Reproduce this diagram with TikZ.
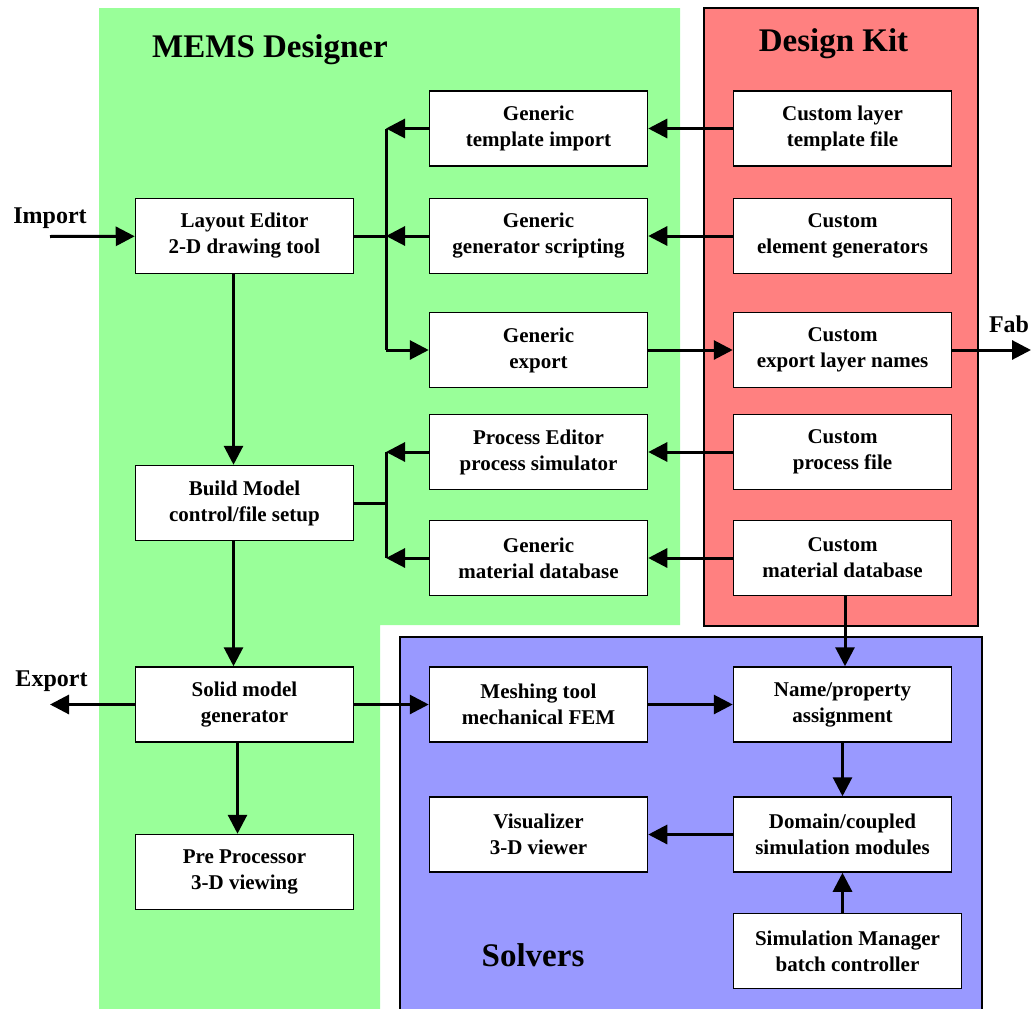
\documentclass[tikz,border=0pt]{standalone}
\usepackage{fontspec}
\setmainfont{Liberation Serif}
\usepackage{tikz}
\usetikzlibrary{arrows.meta}
\definecolor{memsgreen}{RGB}{153,255,153}
\definecolor{kitred}{RGB}{255,128,128}
\definecolor{solverblue}{RGB}{153,153,255}
\tikzstyle{box} = [rectangle, minimum width=218pt, minimum height=75pt, text centered, draw=black, fill=white, line width=1.5pt, align=center, font=\bfseries\fontsize{21}{26}\selectfont]
\tikzstyle{region} = [draw=black, line width=1.5pt]
\tikzstyle{title} = [anchor=base, font=\bfseries\fontsize{33}{40}\selectfont]
\tikzstyle{label} = [anchor=base, font=\bfseries\fontsize{24}{28}\selectfont]
\tikzstyle{line} = [line width=3pt]
\tikzstyle{arrow} = [line width=3pt, -{Triangle[length=19pt, width=19pt]}]

\begin{document}
\begin{tikzpicture}[x=1pt, y=-1pt, node distance=304pt]
        \useasboundingbox (0,0) rectangle (1031,1009);
        % areas
        \fill[memsgreen] (99,8) -- (680,8) -- (680,625) -- (380,625) -- (380,1009) -- (99,1009) -- cycle;
        \draw[region, fill=kitred] (704,8) rectangle (978,626);
        \draw[region, fill=solverblue] (400,637) rectangle (982,1014);
        \node (memstitle) [title] at (270,57) {MEMS Designer};
        \node (kittitle) [title] at (833.5,51) {Design Kit};
        \node (solvertitle) [title] at (533,966) {Solvers};
        % generic tools
        \node (tmplimport) [box] at (538.5,128.5) {Generic\\template import};
        \node (genscript) [box] at (538.5,236) {Generic\\generator scripting};
        \node (genexport) [box] at (538.5,350) {Generic\\export};
        \node (procedit) [box] at (538.5,452) {Process Editor\\process simulator};
        \node (genmat) [box] at (538.5,558) {Generic\\material database};
        \node (meshing) [box] at (538.5,704.5) {Meshing tool\\mechanical FEM};
        \node (visual) [box] at (538.5,834.5) {Visualizer\\3-D viewer};
        % design kit
        \node (custtmpl) [box, right of=tmplimport] {Custom layer\\template file};
        \node (custgen) [box, right of=genscript] {Custom\\element generators};
        \node (custexport) [box, right of=genexport] {Custom\\export layer names};
        \node (custproc) [box, right of=procedit] {Custom\\process file};
        \node (custmat) [box, right of=genmat] {Custom\\material database};
        % solvers
        \node (nameprop) [box, right of=meshing] {Name/property\\assignment};
        \node (domain) [box, right of=visual] {Domain/coupled\\simulation modules};
        \node (simman) [box, below of=domain, node distance=116.5pt, xshift=5pt, minimum width=228pt] {Simulation Manager\\batch controller};
        % designer flow
        \node (layout) [box, left of=genscript, xshift=10pt] {Layout Editor\\2-D drawing tool};
        \node (build) [box] at (244.5,503) {Build Model\\control/file setup};
        \node (solid) [box, left of=meshing, xshift=10pt] {Solid model\\generator};
        \node (preproc) [box] at (244.5,872) {Pre Processor\\3-D viewing};
        \coordinate (busa) at (386,236);
        \coordinate (busb) at (386,503);
        \coordinate (importin) at (50,236.5);
        \coordinate (exportout) at (50,704.5);
        \coordinate (fabout) at (1031,350);
        \node (importlbl) [label] at (50,223.5) {Import};
        \node (exportlbl) [label] at (51.5,686.5) {Export};
        \node (fablbl) [label] at (1009,332.5) {Fab};
        \draw [arrow] (importin) -- (layout);
        \draw [line] (layout.east) -- (layout.east -| busa);
        \draw [line] (tmplimport.west -| busa) -- (genexport.west -| busa);
        \draw [arrow] (tmplimport) -- (tmplimport.west -| busa);
        \draw [arrow] (genscript) -- (genscript.west -| busa);
        \draw [arrow] (genexport.west -| busa) -- (genexport);
        \draw [line] (build.east) -- (build.east -| busb);
        \draw [line] (procedit.west -| busb) -- (genmat.west -| busb);
        \draw [arrow] (procedit) -- (procedit.west -| busb);
        \draw [arrow] (genmat) -- (genmat.west -| busb);
        \draw [arrow] ([xshift=-11pt]layout.south) -- ([xshift=-11pt]build.north);
        \draw [arrow] ([xshift=-11pt]build.south) -- ([xshift=-11pt]solid.north);
        \draw [arrow] ([xshift=-7pt]solid.south) -- ([xshift=-7pt]preproc.north);
        \draw [arrow] (solid) -- (exportout);
        \draw [arrow] (solid) -- (meshing);
        \draw [arrow] (meshing) -- (nameprop);
        \draw [arrow] (custtmpl) -- (tmplimport);
        \draw [arrow] (custgen) -- (genscript);
        \draw [arrow] (genexport) -- (custexport);
        \draw [arrow] (custexport) -- (fabout);
        \draw [arrow] (custproc) -- (procedit);
        \draw [arrow] (custmat) -- (genmat);
        \draw [arrow] ([xshift=2.5pt]custmat.south) -- ([xshift=2.5pt]nameprop.north);
        \draw [arrow] (nameprop) -- (domain);
        \draw [arrow] (domain) -- (visual);
        \draw [arrow] ([xshift=-5pt]simman.north) -- (domain.south);
\end{tikzpicture}
\end{document}
